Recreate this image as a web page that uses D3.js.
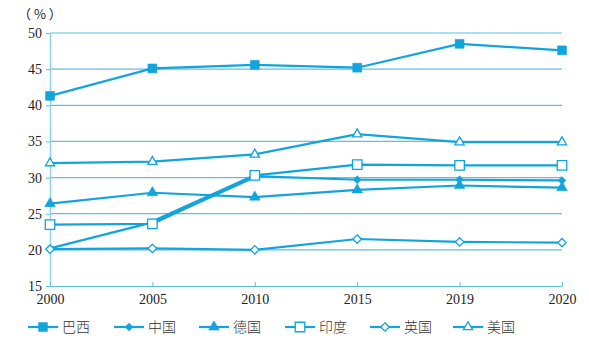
<!DOCTYPE html>
<html>
<head>
<meta charset="utf-8">
<script src="https://cdn.jsdelivr.net/npm/d3@7"></script>
<style>
  body { margin: 0; background: #fff; }
  svg { display: block; }
  .tick text { font-family: "Liberation Serif", serif; font-size: 14px; fill: #222; }
</style>
</head>
<body>
<svg id="chart" width="589" height="351"></svg>
<script>
const years = ["2000", "2005", "2010", "2015", "2019", "2020"];
const y_ticks = [15, 20, 25, 30, 35, 40, 45, 50];

const brazil  = [41.3, 45.1, 45.6, 45.2, 48.5, 47.6];
const china   = [20.2, 23.8, 30.2, 29.7, 29.7, 29.6];
const germany = [26.4, 27.9, 27.3, 28.3, 28.9, 28.6];
const india   = [23.5, 23.6, 30.3, 31.8, 31.7, 31.7];
const uk      = [20.1, 20.2, 20.0, 21.5, 21.1, 21.0];
const usa     = [32.0, 32.2, 33.2, 36.0, 34.9, 34.9];

const series_names = ["巴西", "中国", "德国", "印度", "英国", "美国"];

const main_color = "#13a3dd",
      grid_color = "#5cbfe3";

const margin = {top: 33, right: 27, bottom: 65, left: 50},
      width = 589 - margin.left - margin.right,
      height = 351 - margin.top - margin.bottom;

const svg = d3.select("#chart")
    .append("g")
    .attr("transform", "translate(" + margin.left + "," + margin.top + ")");

const xScale = d3.scalePoint().domain(years).range([0, width]);
const yScale = d3.scaleLinear().domain([15, 50]).range([height, 0]);

// grid lines
svg.append("g")
    .selectAll("line")
    .data(y_ticks.slice(1))
    .enter().append("line")
    .attr("x1", 0)
    .attr("x2", width)
    .attr("y1", d => yScale(d))
    .attr("y2", d => yScale(d))
    .attr("stroke", grid_color)
    .attr("stroke-width", 1.2);

//y axis
const yAxis = svg.append("g")
    .call(d3.axisLeft(yScale).tickValues(y_ticks).tickSize(4).tickSizeOuter(0));
yAxis.select(".domain").attr("stroke", "#8ed3ec").attr("stroke-width", 1.5);
yAxis.selectAll(".tick line").attr("stroke", grid_color);
yAxis.selectAll(".tick text").attr("x", -8);

//x axis
const xAxis = svg.append("g")
    .attr("transform", "translate(0," + height + ")")
    .call(d3.axisBottom(xScale).tickSize(-4).tickSizeOuter(0));
xAxis.select(".domain").attr("stroke", grid_color).attr("stroke-width", 1.2);
xAxis.selectAll(".tick line").attr("stroke", grid_color);
xAxis.selectAll(".tick text").attr("y", 8);

svg.append("text")
    .attr("x", -32)
    .attr("y", -14)
    .style("font-family", "'Noto Sans CJK SC', sans-serif")
    .style("font-size", "13px")
    .style("fill", "#222")
    .text("（ % ）");

const line = d3.line()
    .x((d, i) => xScale(years[i]))
    .y(d => yScale(d));

const all_series = [
    {name: series_names[0], values: brazil,  symbol: d3.symbolSquare,    size: 80, filled: true},
    {name: series_names[1], values: china,   symbol: d3.symbolDiamond2,  size: 40, filled: true},
    {name: series_names[2], values: germany, symbol: d3.symbolTriangle,  size: 50, filled: true},
    {name: series_names[3], values: india,   symbol: d3.symbolSquare,    size: 90, filled: false},
    {name: series_names[4], values: uk,      symbol: d3.symbolDiamond2,  size: 45, filled: false},
    {name: series_names[5], values: usa,     symbol: d3.symbolTriangle2, size: 60, filled: false}
];

all_series.forEach(function (s) {
    svg.append("path")
        .datum(s.values)
        .attr("fill", "none")
        .attr("stroke", main_color)
        .attr("stroke-width", 2.2)
        .attr("d", line);
});

// heavier stroke on china 2005-2010
svg.append("line")
    .attr("x1", xScale(years[1])).attr("y1", yScale(china[1]))
    .attr("x2", xScale(years[2])).attr("y2", yScale(china[2]))
    .attr("stroke", main_color)
    .attr("stroke-width", 4);

all_series.forEach(function (s) {
    svg.append("g")
        .selectAll("path")
        .data(s.values)
        .enter().append("path")
        .attr("transform", (d, i) => "translate(" + xScale(years[i]) + "," + yScale(d) + ")")
        .attr("d", d3.symbol().type(s.symbol).size(s.size))
        .attr("fill", s.filled ? main_color : "#fff")
        .attr("stroke", main_color)
        .attr("stroke-width", s.filled ? 0.5 : 1.3);
});

// legend
const legend_x = [28, 114, 199, 285, 370, 453];
const legend = d3.select("#chart").append("g")
    .attr("transform", "translate(0,327)");

all_series.forEach(function (s, i) {
    const g = legend.append("g").attr("transform", "translate(" + legend_x[i] + ",0)");
    g.append("line")
        .attr("x1", 0).attr("x2", 30)
        .attr("stroke", main_color).attr("stroke-width", 2.2);
    g.append("path")
        .attr("transform", "translate(15,0)")
        .attr("d", d3.symbol().type(s.symbol).size(s.size))
        .attr("fill", s.filled ? main_color : "#fff")
        .attr("stroke", main_color)
        .attr("stroke-width", s.filled ? 0.5 : 1.3);
    g.append("text")
        .attr("x", 34)
        .attr("y", 5)
        .style("font-family", "'Noto Sans CJK SC', sans-serif")
        .style("font-size", "14px")
        .style("font-weight", 300)
        .style("fill", "#333")
        .text(s.name);
});
</script>
</body>
</html>
